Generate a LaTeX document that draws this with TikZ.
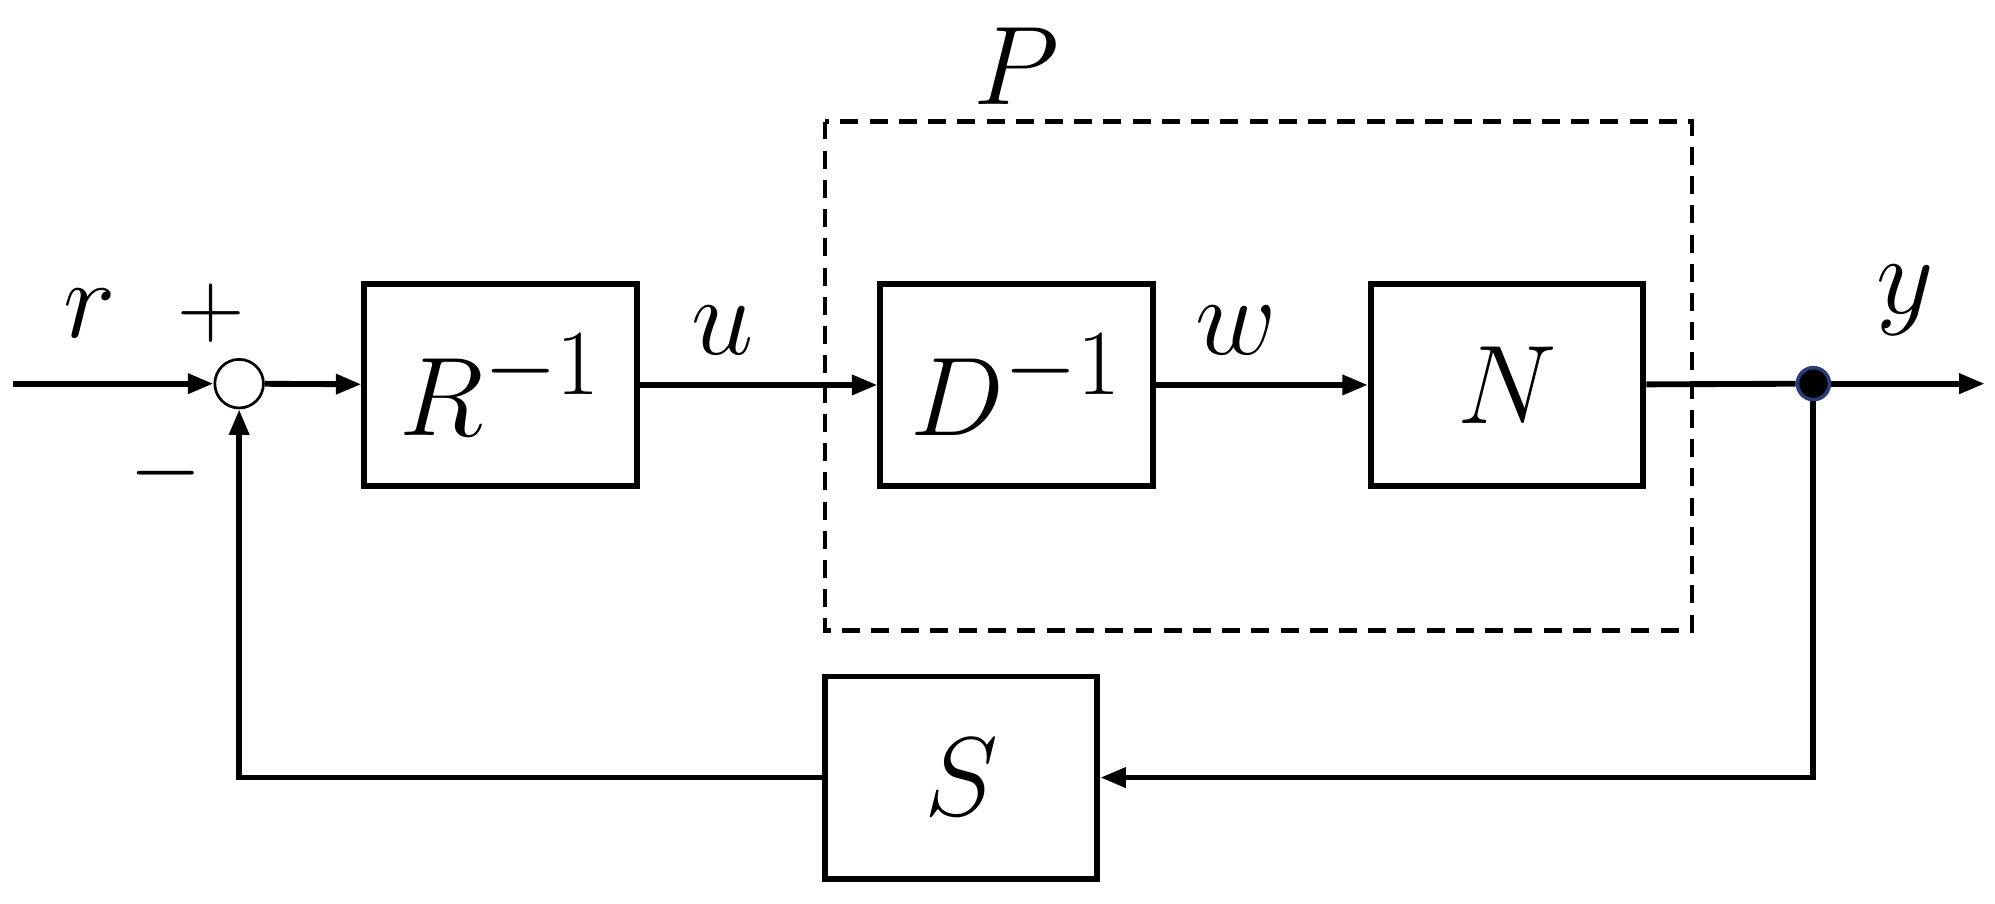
\documentclass[tikz,border=0pt]{standalone}
\usetikzlibrary{arrows.meta}
\begin{document}
\begin{tikzpicture}[x=0.01cm,y=-0.01cm,
  blk/.style={draw,line width=1.3pt,minimum width=2.13cm,minimum height=1.58cm,inner sep=0pt,font=\fontsize{29}{35}\selectfont},
  lab/.style={font=\fontsize{29}{35}\selectfont,inner sep=0pt},
  sgn/.style={font=\fontsize{22}{26}\selectfont,inner sep=0pt},
  ar/.style={line width=1.3pt,-{Triangle[length=0.2cm,width=0.15cm]}},
  ln/.style={line width=1.3pt}]
\useasboundingbox (0,0) rectangle (1560,706.2);
\draw[line width=1pt,dashed,dash pattern=on 4pt off 2.5pt] (645,95) rectangle (1323,493);
\node[lab] (P) at (795,52) {$P$};
\node[draw,circle,line width=0.6pt,minimum size=0.38cm,inner sep=0pt] (sum) at (187,300) {};
\coordinate (in) at (10,300);
\node[blk] (R) at (391.5,301) {$R^{-1}$};
\node[blk] (D) at (795,301) {$D^{-1}$};
\node[blk] (N) at (1178.5,301) {$N$};
\node[blk] (S) at (751.5,608) {$S$};
\node[circle,fill=black,draw={rgb,255:red,40;green,60;blue,120},line width=0.8pt,minimum size=0.25cm,inner sep=0pt] (dot) at (1418,300) {};
\coordinate (out) at (1552,300);
\coordinate (c1) at (1418,608);
\coordinate (c2) at (187,608);
\node[lab] (r) at (70,245) {$r$};
\node[sgn] (plus) at (165,245) {$+$};
\node[sgn] (minus) at (130,370) {$-$};
\node[lab] (u) at (565,258) {$u$};
\node[lab] (w) at (967,258) {$w$};
\node[lab] (y) at (1490,235) {$y$};
\draw[ar] (in) -- (sum);
\draw[ar] (sum) -- (R);
\draw[ar] (R) -- (D);
\draw[ar] (D) -- (N);
\draw[ln] (N) -- (dot);
\draw[ar] (dot) -- (out);
\draw[ar] (dot) -- (c1) -- (S);
\draw[ar] (S) -- (c2) -- (sum);
\end{tikzpicture}
\end{document}
